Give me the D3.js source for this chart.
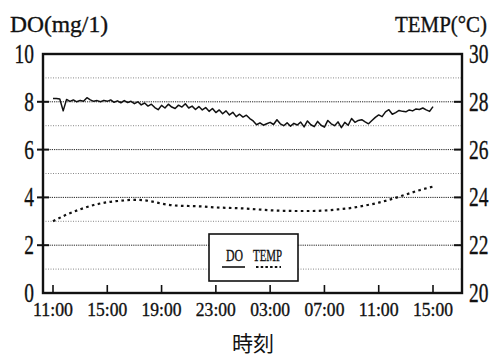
<!DOCTYPE html>
<html>
<head>
<meta charset="utf-8">
<script src="https://cdn.jsdelivr.net/npm/d3@7"></script>
<style>
  html, body { margin: 0; padding: 0; background: #fff; }
  svg { display: block; }
</style>
</head>
<body>
<svg id="chart" width="498" height="357"></svg>
<script>
// Elapsed hours since the 11:00 start, one reading every 15 minutes
const doStepHours = 0.25;
// Dissolved oxygen (mg/l)
const doValues = [
  8.14, 8.14, 8.12, 7.62, 8.10, 8.02, 8.08, 8.00,
  8.06, 8.02, 8.17, 8.08, 8.02, 8.05, 8.00, 8.06,
  8.02, 8.08, 7.98, 8.04, 7.96, 8.05, 7.97, 8.02,
  7.92, 8.00, 7.87, 7.95, 7.82, 7.90, 7.76, 7.67,
  7.85, 7.74, 7.90, 7.78, 7.72, 7.86, 7.78, 7.92,
  7.74, 7.82, 7.68, 7.80, 7.66, 7.76, 7.60, 7.72,
  7.55, 7.66, 7.50, 7.62, 7.45, 7.56, 7.38, 7.48,
  7.36, 7.44, 7.30, 7.20, 7.04, 7.12, 7.02, 7.08,
  7.14, 7.05, 7.25, 7.08, 7.00, 7.12, 6.98, 7.10,
  7.03, 7.15, 6.95, 7.20, 7.04, 6.96, 7.18, 7.02,
  6.94, 7.22, 7.08, 7.00, 7.16, 6.92, 7.14, 7.02,
  7.30, 7.14, 7.22, 7.25, 7.16, 7.08, 7.22, 7.35,
  7.45, 7.38, 7.58, 7.67, 7.48, 7.55, 7.64, 7.60,
  7.58, 7.66, 7.62, 7.70, 7.68, 7.74, 7.66, 7.60,
  7.80
];
// Water temperature (°C), hourly
const tempStepHours = 1;
const tempValues = [
  23.00, 23.28, 23.50, 23.68, 23.80, 23.86, 23.90, 23.86,
  23.74, 23.66, 23.64, 23.62, 23.58, 23.56, 23.54, 23.50,
  23.46, 23.44, 23.43, 23.43, 23.45, 23.50, 23.56, 23.66,
  23.78, 23.94, 24.12, 24.30, 24.45
];
// Time axis
const timeTicks = [0, 4, 8, 12, 16, 20, 24, 28];
const timeLabels = ["11:00", "15:00", "19:00", "23:00", "03:00", "07:00", "11:00", "15:00"];
// Value axes
const doTicks = [0, 2, 4, 6, 8, 10];
const tempTicks = [20, 22, 24, 26, 28, 30];
const gridValues = [1, 2, 3, 4, 5, 6, 7, 8, 9];
const legendNames = ["DO", "TEMP"];

const SERIF = "'Liberation Serif'";
const svg = d3.select("#chart");
const frame = { left: 43, right: 462, top: 54, bottom: 293 };

// Shared look for every label set in the serif face
function serifText(sel, size) {
  return sel.style("font-family", SERIF).attr("font-size", size)
    .attr("fill", "#111").attr("stroke", "#111").attr("stroke-width", 0.35);
}

const x = d3.scaleLinear().domain([0, 28]).range([53, 433]);
const yDo = d3.scaleLinear().domain([0, 10]).range([frame.bottom, frame.top]);
const yTemp = d3.scaleLinear().domain([20, 30]).range([frame.bottom, frame.top]);

// Dotted grid, even values drawn darker
svg.append("g").selectAll("line").data(gridValues).join("line")
  .attr("x1", frame.left).attr("x2", frame.right)
  .attr("y1", d => yDo(d)).attr("y2", d => yDo(d))
  .attr("stroke", d => d % 2 === 0 ? "#222" : "#888")
  .attr("stroke-width", 1)
  .attr("stroke-dasharray", d => d % 2 === 0 ? "1.2,1" : "1,1.5");

// Series
const doLine = d3.line().x((d, i) => x(i * doStepHours)).y(d => yDo(d));
svg.append("path").datum(doValues)
  .attr("d", doLine).attr("fill", "none")
  .attr("stroke", "#111").attr("stroke-width", 1.5).attr("stroke-linejoin", "round");

const tempLine = d3.line().curve(d3.curveMonotoneX)
  .x((d, i) => x(i * tempStepHours)).y(d => yTemp(d));
svg.append("path").datum(tempValues)
  .attr("d", tempLine).attr("fill", "none")
  .attr("stroke", "#111").attr("stroke-width", 2.2).attr("stroke-dasharray", "2.6,3.4");

// Frame
svg.append("rect")
  .attr("x", frame.left).attr("y", frame.top)
  .attr("width", frame.right - frame.left).attr("height", frame.bottom - frame.top)
  .attr("fill", "none").attr("stroke", "#111").attr("stroke-width", 2.4);

// Left axis ticks and labels
svg.append("g").selectAll("line").data(doTicks.slice(1, -1)).join("line")
  .attr("x1", 37).attr("x2", 49)
  .attr("y1", d => yDo(d)).attr("y2", d => yDo(d))
  .attr("stroke", "#111").attr("stroke-width", 2);
serifText(svg.append("g").selectAll("text").data(doTicks).join("text"), 27)
  .attr("transform", d => `translate(34,${yDo(d) + 9}) scale(0.72,1)`)
  .attr("text-anchor", "end")
  .text(d => d);

// Right axis ticks and labels
svg.append("g").selectAll("line").data(tempTicks.slice(1, -1)).join("line")
  .attr("x1", 454).attr("x2", frame.right)
  .attr("y1", d => yTemp(d)).attr("y2", d => yTemp(d))
  .attr("stroke", "#111").attr("stroke-width", 2);
serifText(svg.append("g").selectAll("text").data(tempTicks).join("text"), 27)
  .attr("transform", d => `translate(469,${yTemp(d) + 9}) scale(0.72,1)`)
  .attr("text-anchor", "start")
  .text(d => d);

// Time ticks (pointing into the plot) and labels
svg.append("g").selectAll("line").data(timeTicks).join("line")
  .attr("x1", d => x(d)).attr("x2", d => x(d))
  .attr("y1", frame.bottom).attr("y2", frame.bottom - 8)
  .attr("stroke", "#111").attr("stroke-width", 1.6);
serifText(svg.append("g").selectAll("text").data(timeTicks).join("text"), 19)
  .attr("x", d => x(d) - 20).attr("y", 316)
  .attr("textLength", 40).attr("lengthAdjust", "spacingAndGlyphs")
  .text((d, i) => timeLabels[i]);

// Axis titles
serifText(svg.append("text"), 24).attr("x", 10).attr("y", 32)
  .attr("textLength", 98).attr("lengthAdjust", "spacingAndGlyphs")
  .text("DO(mg/1)");
serifText(svg.append("text"), 23).attr("x", 395).attr("y", 32)
  .attr("textLength", 92).attr("lengthAdjust", "spacingAndGlyphs")
  .text("TEMP(°C)");
svg.append("text").attr("x", 253).attr("y", 351)
  .attr("text-anchor", "middle").attr("font-size", 21).attr("fill", "#111")
  .style("font-family", "'Noto Sans CJK JP'")
  .text("時刻");

// Legend
const legend = svg.append("g");
legend.append("rect").attr("x", 209).attr("y", 234).attr("width", 89).attr("height", 47)
  .attr("fill", "#fff").attr("stroke", "#111").attr("stroke-width", 1.6);
const legendItems = [
  { name: legendNames[0], tx: 226, tw: 17, lx: 222, lw: 23, dash: null, sw: 1.6 },
  { name: legendNames[1], tx: 253, tw: 29, lx: 256, lw: 25, dash: "2.5,2.2", sw: 1.8 }
];
serifText(legend.selectAll("text").data(legendItems).join("text"), 17)
  .attr("x", d => d.tx).attr("y", 261)
  .attr("textLength", d => d.tw).attr("lengthAdjust", "spacingAndGlyphs")
  .text(d => d.name);
legend.selectAll("line").data(legendItems).join("line")
  .attr("x1", d => d.lx).attr("x2", d => d.lx + d.lw)
  .attr("y1", 267).attr("y2", 267)
  .attr("stroke", "#111").attr("stroke-width", d => d.sw)
  .attr("stroke-dasharray", d => d.dash);
</script>
</body>
</html>
